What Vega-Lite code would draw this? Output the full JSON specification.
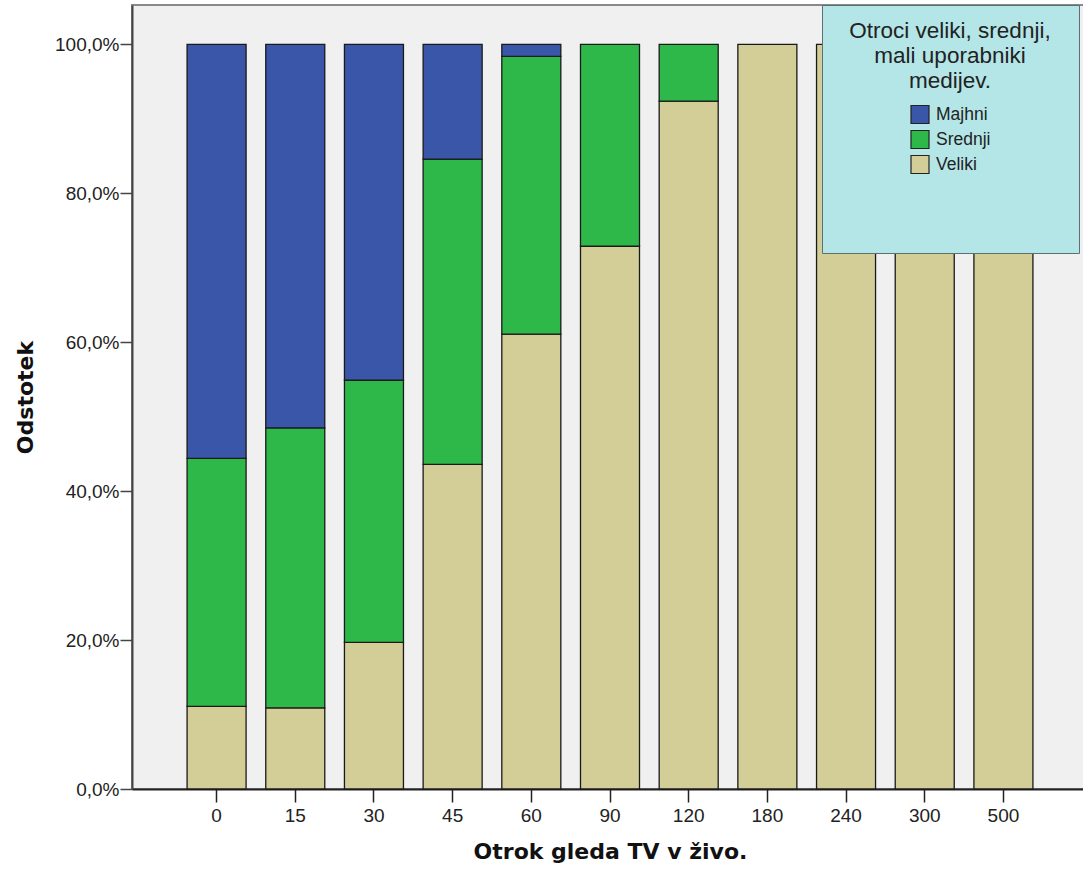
{
  "$schema": "https://vega.github.io/schema/vega-lite/v6.json",
  "autosize": {"type": "none"},
  "width": 956,
  "height": 784,
  "padding": {"left": 132, "top": 5, "right": 0, "bottom": 81},
  "background": "white",
  "config": {
    "view": {"fill": "#f0f0f0", "stroke": "#888888", "strokeWidth": 2},
    "axis": {"grid": false},
    "style": {"guide-label": {"lineHeight": 21.6}}
  },
  "data": {"values": [
    {"t": "0", "g": "Veliki", "p": 11.1}, {"t": "0", "g": "Srednji", "p": 33.3}, {"t": "0", "g": "Majhni", "p": 55.6},
    {"t": "15", "g": "Veliki", "p": 10.9}, {"t": "15", "g": "Srednji", "p": 37.6}, {"t": "15", "g": "Majhni", "p": 51.5},
    {"t": "30", "g": "Veliki", "p": 19.7}, {"t": "30", "g": "Srednji", "p": 35.2}, {"t": "30", "g": "Majhni", "p": 45.1},
    {"t": "45", "g": "Veliki", "p": 43.6}, {"t": "45", "g": "Srednji", "p": 41.0}, {"t": "45", "g": "Majhni", "p": 15.4},
    {"t": "60", "g": "Veliki", "p": 61.1}, {"t": "60", "g": "Srednji", "p": 37.3}, {"t": "60", "g": "Majhni", "p": 1.6},
    {"t": "90", "g": "Veliki", "p": 72.9}, {"t": "90", "g": "Srednji", "p": 27.1},
    {"t": "120", "g": "Veliki", "p": 92.4}, {"t": "120", "g": "Srednji", "p": 7.6},
    {"t": "180", "g": "Veliki", "p": 100},
    {"t": "240", "g": "Veliki", "p": 100},
    {"t": "300", "g": "Veliki", "p": 100},
    {"t": "500", "g": "Veliki", "p": 100}
  ]},
  "mark": {"type": "bar", "stroke": "#1a1a1a", "strokeWidth": 1.3},
  "encoding": {
    "x": {
      "field": "t", "type": "nominal",
      "scale": {"domain": ["0","15","30","45","60","90","120","180","240","300","500"], "paddingInner": 0.25, "paddingOuter": 0.7},
      "axis": {
        "title": "Otrok gleda TV v živo.",
        "titleFont": "DejaVu Sans", "titleFontSize": 22, "titleFontWeight": "bold", "titleColor": "#111111",
        "titleBaseline": "alphabetic", "titleY": 69,
        "labelAngle": 0, "labelFont": "Liberation Sans", "labelFontSize": 19, "labelColor": "#222222",
        "labelPadding": 4, "tickSize": 13, "tickColor": "#222222", "tickWidth": 1.5,
        "domainColor": "#222222", "domainWidth": 2
      }
    },
    "y": {
      "field": "p", "type": "quantitative", "stack": "zero",
      "scale": {"domain": [0, 105.3], "nice": false},
      "axis": {
        "title": "Odstotek",
        "titleFont": "DejaVu Sans", "titleFontSize": 22, "titleFontWeight": "bold", "titleColor": "#111111",
        "titleX": -100, "titleBaseline": "alphabetic",
        "values": [0, 20, 40, 60, 80, 100],
        "labelExpr": "replace(format(datum.value, '.1f'), '.', ',') + '%'",
        "labelFont": "Liberation Sans", "labelFontSize": 19, "labelColor": "#222222",
        "labelPadding": 1, "tickSize": 12, "tickColor": "#444444", "tickWidth": 1.5,
        "domainColor": "#444444", "domainWidth": 2
      }
    },
    "color": {
      "field": "g", "type": "nominal",
      "scale": {"domain": ["Majhni", "Srednji", "Veliki"], "range": ["#3a56a8", "#2eb84a", "#d3ce97"]},
      "legend": {
        "title": ["\u200b\u00a0\u00a0Otroci veliki, srednji,\u00a0\u00a0\u200b", "mali uporabniki", "medijev."],
        "orient": "none", "legendX": 690, "legendY": 0,
        "fillColor": "#b4e6e7", "strokeColor": "#5f6f70", "padding": 15,
        "titleFont": "Liberation Sans", "titleFontSize": 22.5, "titleFontWeight": "normal", "titleColor": "#222222",
        "titleAnchor": "middle", "titleAlign": "center", "titleLineHeight": 25, "titlePadding": 12, "titleLimit": 400,
        "symbolType": "square", "symbolSize": 324, "symbolStrokeColor": "#222222", "symbolStrokeWidth": 1.2, "symbolOpacity": 1,
        "symbolOffset": 0, "labelOffset": 6,
        "labelFont": "Liberation Sans", "labelFontSize": 17.5, "labelColor": "#222222", "labelLimit": 300,
        "rowPadding": 1,
        "labelExpr": "datum.label == 'Veliki' ? ['Veliki', '', '', ''] : datum.label"
      }
    },
    "order": {"field": "g", "sort": "descending"}
  }
}
